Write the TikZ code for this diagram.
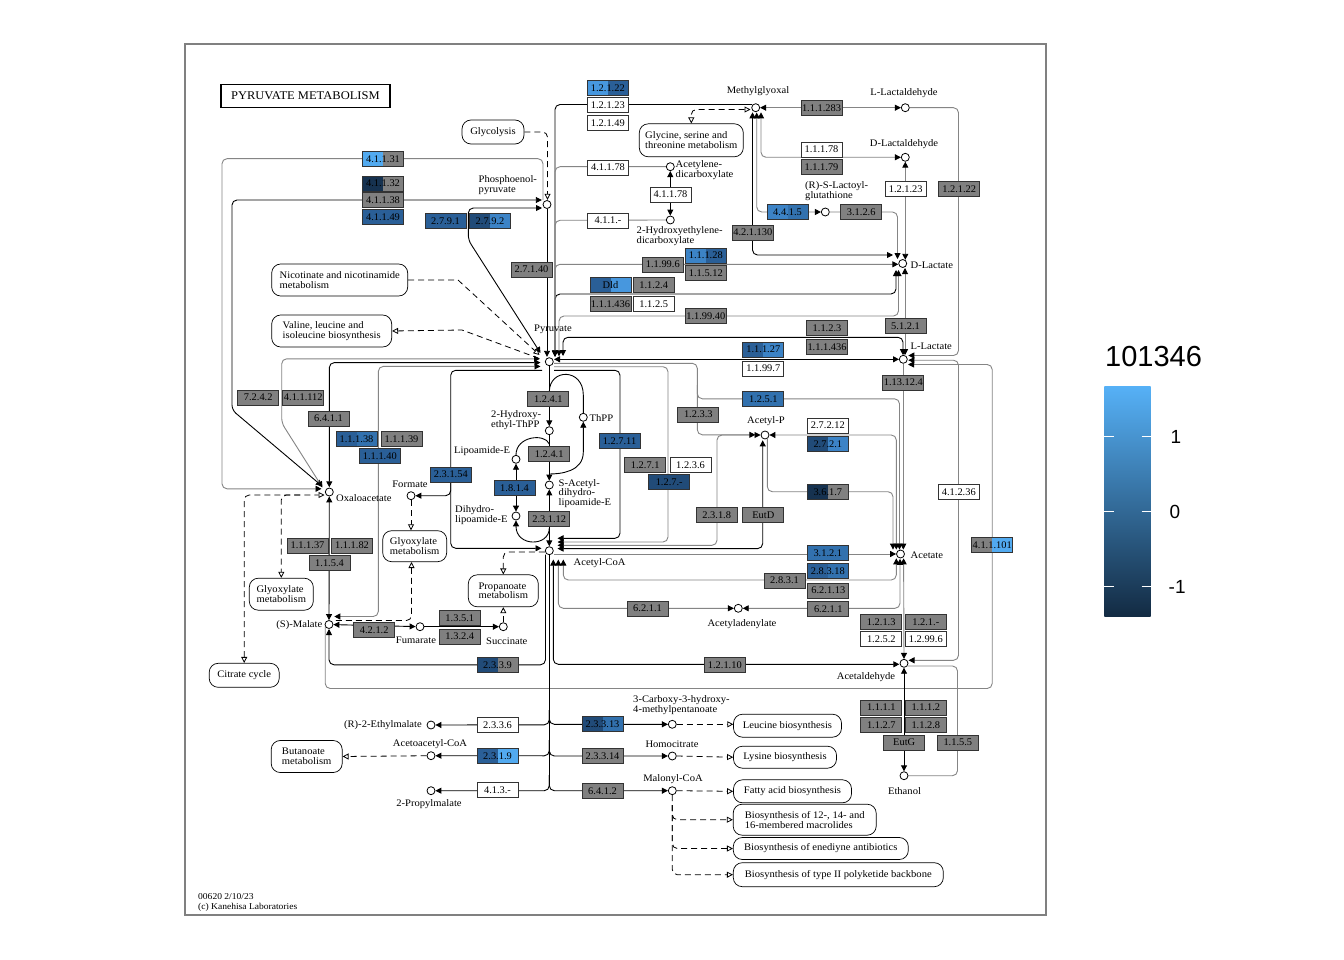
\documentclass[tikz,border=0pt]{standalone}
\usepackage{fontspec}
\setmainfont{Liberation Serif}
\newfontfamily\kfont[FakeStretch=1.06]{Liberation Serif}
\newfontfamily\bfont[FakeStretch=1.02]{Liberation Serif}
\newfontfamily\legfont{Liberation Sans}
\usetikzlibrary{arrows.meta}
\pgfdeclarelayer{bg}
\pgfsetlayers{bg,main}
\definecolor{kgray}{HTML}{808080}
\definecolor{lgray}{HTML}{858585}
\definecolor{cA}{HTML}{52AAF0}
\definecolor{cB}{HTML}{4797DE}
\definecolor{cC}{HTML}{3C83C6}
\definecolor{cD}{HTML}{3271AE}
\definecolor{cE}{HTML}{2A5F97}
\definecolor{cF}{HTML}{214B78}
\definecolor{cG}{HTML}{163250}
\definecolor{legHi}{HTML}{56B1F7}
\definecolor{legLo}{HTML}{132B43}
\newcommand\boxfont{\bfont\fontsize{10.2}{10.2}\selectfont}
\newcommand\lblfont{\kfont\fontsize{10}{9.8}\selectfont}
\newcommand\ttlfont{\kfont\fontsize{11.8}{12}\selectfont}
\newcommand\ftfont{\kfont\fontsize{9}{10}\selectfont}
\begin{document}
\begin{tikzpicture}[x=1pt,y=-1pt,
  >={Triangle[length=6pt,width=6pt,color=black]},
  ec/.style={draw=black!80,line width=0.7pt,minimum width=41pt,minimum height=15pt,inner sep=0pt,font=\boxfont,text=black},
  eg/.style={ec,fill=kgray},
  ew/.style={ec,fill=white},
  eb/.style={ec,fill=#1},
  esp/.style 2 args={ec,path picture={
     \fill[#1] (path picture bounding box.south west) rectangle (path picture bounding box.north);
     \fill[#2] (path picture bounding box.south) rectangle (path picture bounding box.north east);}},
  cpd/.style={circle,draw=black,fill=white,line width=0.8pt,minimum size=8pt,inner sep=0pt},
  lb/.style={font=\lblfont,inner sep=0pt,align=left},
  mapn/.style={draw=black,line width=0.7pt,rounded corners=9pt,fill=white,font=\lblfont,align=left,inner sep=0pt},
  kl/.style={draw=black,line width=0.9pt},
  gl/.style={draw=lgray,line width=0.9pt},
  dl/.style={draw=black,line width=0.8pt,dash pattern=on 6pt off 4pt},
  rc/.style={rounded corners=5pt},
  oa/.style={-{Triangle[open,fill=white,length=6pt,width=6pt]}},
  ao/.style={{Triangle[open,fill=white,length=6pt,width=6pt]}-},
  oao/.style={{Triangle[open,fill=white,length=6pt,width=6pt]}-{Triangle[open,fill=white,length=6pt,width=6pt]}}
]
\useasboundingbox (0,0) rectangle (1344,960);

% ---------------- title
\node[draw=black,line width=1.2pt,minimum width=169pt,minimum height=23pt,inner sep=0pt,font=\ttlfont] (title) at (305.4,96) {PYRUVATE METABOLISM};

% ---------------- enzyme boxes (gray)
\node[eg] (e01) at (531.5,269.5) {2.7.1.40};
\node[eg] (e02) at (662.8,264.5) {1.1.99.6};
\node[eg] (e03) at (705.8,273.2) {1.1.5.12};
\node[eg] (e04) at (653.7,285) {1.1.2.4};
\node[eg] (e05) at (610.5,303.8) {1.1.1.436};
\node[eg] (e06) at (705.8,315.8) {1.1.99.40};
\node[eg] (e07) at (821.5,107.7) {1.1.1.283};
\node[eg] (e08) at (821.5,167.2) {1.1.1.79};
\node[eg] (e09) at (861.2,212) {3.1.2.6};
\node[eg] (e10) at (752.8,232.5) {4.2.1.130};
\node[eg] (e11) at (959.2,188.7) {1.2.1.22};
\node[eg] (e12) at (827,328) {1.1.2.3};
\node[eg] (e13) at (827,346.7) {1.1.1.436};
\node[eg] (e14) at (905.5,326) {5.1.2.1};
\node[eg] (e15) at (903.3,382.5) {1.13.12.4};
\node[eg] (e16) at (698.3,414.5) {1.2.3.3};
\node[eg] (e17) at (645.2,465) {1.2.7.1};
\node[eg] (e18) at (716.7,515) {2.3.1.8};
\node[eg] (e19) at (763.3,515) {EutD};
\node[eg] (e20) at (784.5,580.5) {2.8.3.1};
\node[eg] (e21) at (828.3,590.5) {6.2.1.13};
\node[eg] (e22) at (647.5,608.5) {6.2.1.1};
\node[eg] (e23) at (828.3,608.8) {6.2.1.1};
\node[eg] (e24) at (881.2,621.7) {1.2.1.3};
\node[eg] (e25) at (925.8,621.7) {1.2.1.-};
\node[eg] (e26) at (724.8,664.8) {1.2.1.10};
\node[eg] (e27) at (881.3,707.5) {1.1.1.1};
\node[eg] (e28) at (925.8,707.5) {1.1.1.2};
\node[eg] (e29) at (881.3,725) {1.1.2.7};
\node[eg] (e30) at (925.8,725) {1.1.2.8};
\node[eg] (e31) at (904.2,742.5) {EutG};
\node[eg] (e32) at (957.8,742.5) {1.1.5.5};
\node[eg] (e33) at (548.3,399.2) {1.2.4.1};
\node[eg] (e34) at (549.2,454.2) {1.2.4.1};
\node[eg] (e35) at (549.2,519.2) {2.3.1.12};
\node[eg] (e36) at (328.5,418.5) {6.4.1.1};
\node[eg] (e37) at (401.5,439.2) {1.1.1.39};
\node[eg] (e38) at (258.2,397.5) {7.2.4.2};
\node[eg] (e39) at (303.3,397.5) {4.1.1.112};
\node[eg] (e40) at (307.5,545.5) {1.1.1.37};
\node[eg] (e41) at (352,545.5) {1.1.1.82};
\node[eg] (e42) at (329.5,563) {1.1.5.4};
\node[eg] (e43) at (374.2,630) {4.2.1.2};
\node[eg] (e44) at (459.8,618.2) {1.3.5.1};
\node[eg] (e45) at (459.8,636.5) {1.3.2.4};
\node[eg] (e46) at (602.5,756.3) {2.3.3.14};
\node[eg] (e47) at (602.5,790.8) {6.4.1.2};
\node[eg] (e48) at (383,200) {4.1.1.38};

% ---------------- enzyme boxes (white)
\node[ew] (w01) at (607.8,105.3) {1.2.1.23};
\node[ew] (w02) at (607.8,122.7) {1.2.1.49};
\node[ew] (w03) at (608,167.5) {4.1.1.78};
\node[ew] (w04) at (670.5,194.5) {4.1.1.78};
\node[ew] (w05) at (608,220.5) {4.1.1.-};
\node[ew] (w06) at (653.7,303.8) {1.1.2.5};
\node[ew] (w07) at (821.5,149.5) {1.1.1.78};
\node[ew] (w08) at (905.7,188.7) {1.2.1.23};
\node[ew] (w09) at (763.3,368.5) {1.1.99.7};
\node[ew] (w10) at (827.8,425.5) {2.7.2.12};
\node[ew] (w11) at (690.5,465) {1.2.3.6};
\node[ew] (w12) at (958.8,491.8) {4.1.2.36};
\node[ew] (w13) at (881.3,639.2) {1.2.5.2};
\node[ew] (w14) at (925.8,639.2) {1.2.99.6};
\node[ew] (w15) at (497.5,724.8) {2.3.3.6};
\node[ew] (w16) at (497.5,790.2) {4.1.3.-};

% ---------------- enzyme boxes (blue)
\node[eb=cD] (u01) at (763.3,399.2) {1.2.5.1};
\node[eb=cD] (u02) at (827.8,553.2) {3.1.2.1};
\node[eb=cE] (u03) at (619.5,440.7) {1.2.7.11};
\node[eb=cE] (u04) at (514.5,488.2) {1.8.1.4};
\node[eb=cE] (u05) at (450.8,474.5) {2.3.1.54};
\node[eb=cE] (u06) at (379.8,455.8) {1.1.1.40};
\node[eb=cE] (u07) at (445.5,221) {2.7.9.1};
\node[eb=cE] (u08) at (383,216.7) {4.1.1.49};
\node[eb=cF] (u09) at (669.2,481.7) {1.2.7.-};

% ---------------- enzyme boxes (two colours)
\node[esp={cB}{cE}] (s01) at (607.8,88.3) {1.2.1.22};
\node[esp={cC}{cD}] (s02) at (787.5,212) {4.4.1.5};
\node[esp={cC}{cE}] (s03) at (705.8,255.5) {1.1.1.28};
\node[esp={cE}{cB}] (s04) at (610.5,285) {Dld};
\node[esp={cE}{cC}] (s05) at (763.3,349.5) {1.1.1.27};
\node[esp={cF}{cC}] (s06) at (827.8,443.8) {2.7.2.1};
\node[esp={cG}{kgray}] (s07) at (827.8,491.7) {3.6.1.7};
\node[esp={kgray}{cA}] (s08) at (992.2,545) {4.1.1.101};
\node[esp={cE}{cD}] (s09) at (827.8,570.8) {2.8.3.18};
\node[esp={cE}{cD}] (s10) at (356.5,439.2) {1.1.1.38};
\node[esp={cF}{kgray}] (s11) at (497.5,665) {2.3.3.9};
\node[esp={cE}{cA}] (s12) at (497.5,755.8) {2.3.1.9};
\node[esp={cF}{cD}] (s13) at (602.5,724.2) {2.3.3.13};
\node[esp={cA}{kgray}] (s14) at (383,158.7) {4.1.1.31};
\node[esp={cG}{kgray}] (s15) at (383,183.5) {4.1.1.32};
\node[esp={cF}{cC}] (s16) at (490,221) {2.7.9.2};

% ---------------- compounds
\node[cpd] (mgo) at (755.7,107.7) {};
\node[cpd] (llald) at (905.3,107.7) {};
\node[cpd] (dlald) at (905.3,157.3) {};
\node[cpd] (rsl) at (825.3,212) {};
\node[cpd] (dlac) at (902.7,263.5) {};
\node[cpd] (llac) at (903.3,359.3) {};
\node[cpd] (pep) at (547,204.5) {};
\node[cpd] (acdc) at (670.3,166.7) {};
\node[cpd] (hedc) at (670.3,220) {};
\node[cpd] (pyr) at (549.3,361.7) {};
\node[cpd] (hethpp) at (549.3,430.7) {};
\node[cpd] (thpp) at (583.3,417.3) {};
\node[cpd] (lipo) at (516,459.3) {};
\node[cpd] (sacl) at (549.3,485) {};
\node[cpd] (dhl) at (516,516) {};
\node[cpd] (accoa) at (549.3,550.7) {};
\node[cpd] (acp) at (765,435) {};
\node[cpd] (acet) at (900.5,554) {};
\node[cpd] (acad) at (738.3,608.3) {};
\node[cpd] (acald) at (904,663.3) {};
\node[cpd] (etoh) at (904,775.7) {};
\node[cpd] (oaa) at (329.3,492) {};
\node[cpd] (form) at (411,495.7) {};
\node[cpd] (mal) at (329,624.5) {};
\node[cpd] (fum) at (420,626.7) {};
\node[cpd] (succ) at (503.3,626.7) {};
\node[cpd] (etm) at (431,725) {};
\node[cpd] (aacoa) at (431,755.7) {};
\node[cpd] (prm) at (431,790.7) {};
\node[cpd] (cmp) at (672.3,724.3) {};
\node[cpd] (hcit) at (672.3,756) {};
\node[cpd] (mcoa) at (672.3,790.7) {};

% ---------------- compound labels
\node[lb] (t01) at (758,91.5) {Methylglyoxal};
\node[lb] (t02) at (904,92.7) {L-Lactaldehyde};
\node[lb] (t03) at (904,144) {D-Lactaldehyde};
\node[lb,anchor=west] (t04) at (805,191.2) {(R)-S-Lactoyl-\\glutathione};
\node[lb,anchor=west] (t05) at (910.5,265) {D-Lactate};
\node[lb,anchor=west] (t06) at (910.5,346) {L-Lactate};
\node[lb,anchor=west] (t07) at (478.5,185) {Phosphoenol-\\pyruvate};
\node[lb,anchor=west] (t08) at (675.5,170) {Acetylene-\\dicarboxylate};
\node[lb,anchor=west] (t09) at (636.5,236.5) {2-Hydroxyethylene-\\dicarboxylate};
\node[lb] (t10) at (553,329) {Pyruvate};
\node[lb,anchor=west] (t11) at (491,420) {2-Hydroxy-\\ethyl-ThPP};
\node[lb,anchor=west] (t12) at (589.5,418.5) {ThPP};
\node[lb,anchor=west] (t13) at (454,451) {Lipoamide-E};
\node[lb,anchor=west] (t14) at (558.5,493.5) {S-Acetyl-\\dihydro-\\lipoamide-E};
\node[lb,anchor=west] (t15) at (455,515.3) {Dihydro-\\lipoamide-E};
\node[lb,anchor=west] (t16) at (573.5,563.5) {Acetyl-CoA};
\node[lb] (t17) at (766,421) {Acetyl-P};
\node[lb,anchor=west] (t18) at (910.5,555.5) {Acetate};
\node[lb] (t19) at (742,624.5) {Acetyladenylate};
\node[lb] (t20) at (866,677) {Acetaldehyde};
\node[lb] (t21) at (904.5,791.5) {Ethanol};
\node[lb,anchor=west] (t22) at (336,498.5) {Oxaloacetate};
\node[lb] (t23) at (410,484.5) {Formate};
\node[lb,anchor=east] (t24) at (322.5,625.5) {(S)-Malate};
\node[lb] (t25) at (416,640) {Fumarate};
\node[lb,anchor=west] (t26) at (486,641) {Succinate};
\node[lb,anchor=east] (t27) at (422,725) {(R)-2-Ethylmalate};
\node[lb] (t28) at (430,744) {Acetoacetyl-CoA};
\node[lb] (t29) at (429,804) {2-Propylmalate};
\node[lb,anchor=west] (t30) at (633,705.5) {3-Carboxy-3-hydroxy-\\4-methylpentanoate};
\node[lb] (t31) at (672,744) {Homocitrate};
\node[lb] (t32) at (673,779) {Malonyl-CoA};
\node[font=\ftfont,anchor=west,inner sep=0pt,align=left] (t33) at (198,902) {00620 2/10/23\\(c) Kanehisa Laboratories};

% ---------------- map nodes
\node[mapn,minimum width=62pt,minimum height=24pt] (m01) at (493,132) {Glycolysis};
\node[mapn,minimum width=104pt,minimum height=33pt] (m02) at (691.3,140.3) {Glycine, serine and\\threonine metabolism};
\node[mapn,minimum width=136pt,minimum height=32pt] (m03) at (339.7,280) {Nicotinate and nicotinamide\\metabolism};
\node[mapn,minimum width=120pt,minimum height=32pt] (m04) at (331.7,331) {Valine, leucine and\\isoleucine biosynthesis};
\node[mapn,minimum width=64pt,minimum height=31pt] (m05) at (414.7,546.2) {Glyoxylate\\metabolism};
\node[mapn,minimum width=64pt,minimum height=32pt] (m06) at (281.3,594.2) {Glyoxylate\\metabolism};
\node[mapn,minimum width=70pt,minimum height=32pt] (m07) at (503.3,590.8) {Propanoate\\metabolism};
\node[mapn,minimum width=70pt,minimum height=24pt] (m08) at (244.2,675.3) {Citrate cycle};
\node[mapn,minimum width=71pt,minimum height=32pt] (m09) at (306.7,756.5) {Butanoate\\metabolism};
\node[mapn,minimum width=108pt,minimum height=23pt] (m10) at (787.5,725.7) {Leucine biosynthesis};
\node[mapn,minimum width=103pt,minimum height=22pt] (m11) at (785,757.2) {Lysine biosynthesis};
\node[mapn,minimum width=118pt,minimum height=23pt] (m12) at (792.5,791.3) {Fatty acid biosynthesis};
\node[mapn,minimum width=143pt,minimum height=31pt] (m13) at (804.7,819.7) {Biosynthesis of 12-, 14- and\\16-membered macrolides};
\node[mapn,minimum width=175pt,minimum height=22pt] (m14) at (820.8,848.5) {Biosynthesis of enediyne antibiotics};
\node[mapn,minimum width=210pt,minimum height=24pt] (m15) at (838.3,874.7) {Biosynthesis of type II polyketide backbone};

% ---------------- legend
\shade[top color=legHi,bottom color=legLo] (1104.3,386) rectangle (1150.7,616);
\foreach \yy in {436.7,511.7,586.7} {\draw[white,line width=1.1pt] (1104.3,\yy) -- (1113.5,\yy) (1141.5,\yy) -- (1150.7,\yy);}
\node[font=\legfont\fontsize{29}{29}\selectfont,anchor=west,inner sep=0pt] (lg0) at (1105,357) {101346};
\node[font=\legfont\fontsize{19}{19}\selectfont,anchor=west,inner sep=0pt] (lg1) at (1170.5,437) {1};
\node[font=\legfont\fontsize{19}{19}\selectfont,anchor=west,inner sep=0pt] (lg2) at (1169.5,512) {0};
\node[font=\legfont\fontsize{19}{19}\selectfont,anchor=west,inner sep=0pt] (lg3) at (1168.5,587) {-1};

% ---------------- connectors
\begin{pgfonlayer}{bg}
\fill[white] (0,0) rectangle (1344,960);
\draw[draw=black!50,line width=1.3pt] (185,44) rectangle (1046,915);
% pyruvate, top side
\draw[kl,rc,->] (751.8,104.5) -- (555,104.5) -- (555,356.5);
\draw[kl,rc,->] (555,356.5) -- (555,294) -- (896,294) -- (896,270);
\draw[kl,rc,<->] (563,356) -- (563,337.3) -- (903,337.3) -- (903,355.2);
\draw[kl,<->] (554,359.3) -- (899,359.3);
\draw[kl,->] (pep) -- (547,356.8);
\draw[gl,rc,->] (acdc.west) -- (555,166.7) -- (555,356.5);
\draw[gl,rc,->] (hedc.west) -- (555,220.3) -- (555,356.5);
\draw[gl,rc,<->] (555,356.5) -- (555,264.3) -- (898.3,264.3);
\draw[gl,rc,<->] (559,356.3) -- (559,316) -- (898.5,316) -- (898.5,270);
\draw[gl,<->] (905,268) -- (905,355.2);
\draw[kl,<->] (acdc) -- (hedc);
% methylglyoxal
\draw[gl,<->] (mgo) -- (llald);
\draw[gl,rc,<->] (761,112.3) -- (761,157.3) -- (dlald.west);
\draw[gl,rc,<->] (756.7,112.5) -- (756.7,212) -- (rsl.west);
\draw[kl,rc,<->] (752.5,112.3) -- (752.5,255) -- (893,255);
\draw[gl,rc,->] (rsl.east) -- (897.5,212) -- (897.5,259);
\draw[gl,<->] (dlald) -- (905.3,259.8);
\draw[gl,rc,->] (llald.east) -- (958.5,107.7) -- (958.5,355.5) -- (908.3,355.5);
\draw[dl,rc,oao] (750.5,109.5) -- (691.3,109.5) -- (m02.north);
\draw[dl,rc,oa] (m01.east) -- (547.5,132) -- (547.5,199.8);
% PEP
\draw[gl,rc,->] (543,200) -- (543,158.7) -- (222,158.7) -- (222,488.8) -- (321.5,488.8);
\draw[kl,rc,<->] (541.8,200) -- (232,200) -- (232,410) -- (322,486);
\draw[kl,rc,<->] (542,208) -- (468.3,208) -- (468.3,240) -- (540.5,353);
\draw[dl,oa] (m03.east) -- (458,280) -- (539.5,355);
\draw[dl,ao] (m04.east) -- (462,330) -- (538.5,358.2);
% pyruvate, left side
\draw[gl,rc,<->] (540,358.8) -- (281.7,358.8) -- (281.7,423) -- (322.5,487.5);
\draw[kl,rc,<->] (540.5,362.6) -- (329.3,362.6) -- (329.3,487.3);
\draw[gl,rc,<->] (540.5,366.4) -- (378.3,366.4) -- (378.3,616.5) -- (334.3,616.5);
\draw[kl,rc,->] (542,370.3) -- (450.7,370.3) -- (450.7,548.3) -- (541.5,548.3);
\draw[kl,rc,->] (450.7,478) -- (450.7,495.7) -- (form.east);
% oxaloacetate / malate
\draw[kl,<->] (oaa) -- (mal);
\draw[kl,<->] (mal) -- (fum);
\draw[kl,->] (fum) -- (succ);
\draw[dl,rc,oao] (m08.north) -- (244.2,495) -- (324.5,495);
\draw[dl,rc,oa] (300,495) -- (281.3,495) -- (m06.north);
\draw[dl,oa] (form) -- (411,530.3);
\draw[dl,rc,ao] (411.5,562) -- (411.5,620.5) -- (334,620.5);
\draw[dl,rc,oa] (544.8,552) -- (503.3,552) -- (m07.north);
\draw[dl,oa] (succ) -- (m07.south);
\draw[dl,oa] (aacoa) -- (m09.east);
\draw[kl,rc,->] (545.5,554.5) -- (545.5,664.8) -- (329,664.8) -- (329,629);
% lactate / acetaldehyde / ethanol
\draw[gl,rc,->] (325.2,626) -- (325.2,688.5) -- (992.2,688.5) -- (992.2,364.5) -- (908,364.5);
\draw[gl,rc,<->] (908.3,360.2) -- (958.5,360.2) -- (958.5,660.3) -- (908.5,660.3);
\draw[gl,rc] (907.5,666) -- (957.5,666) -- (957.5,775.7) -- (etoh.east);
\draw[kl,<->] (acald) -- (etoh);
\draw[gl,<->] (903.6,558.3) -- (acald);
\draw[kl,rc,<->] (553.3,559.5) -- (553.3,664.3) -- (899.3,664.3);
% acetyl-CoA / acetate
\draw[gl,rc,<->] (558.3,559.5) -- (558.3,608.3) -- (acad.west);
\draw[gl,rc,<->] (acad.east) -- (900,608.3) -- (900,558.8);
\draw[gl,rc,<->] (563.3,559.5) -- (563.3,580) -- (896.3,580) -- (896.3,558.3);
\draw[gl,->] (553.8,554) -- (acet.west);
\draw[kl,rc,->] (554,370.3) -- (620,370.3) -- (620,538.3) -- (557.5,538.3);
\draw[gl,rc,->] (554,366.7) -- (668,366.7) -- (668,542) -- (557.5,542);
\draw[gl,rc,<->] (760.5,435) -- (717,435) -- (717,545.3) -- (557.5,545.3);
\draw[kl,rc,<->] (762.7,440.3) -- (762.7,548.6) -- (557.5,548.6);
\draw[gl,rc,->] (554,363.3) -- (697.3,363.3) -- (697.3,434.8) -- (755.3,434.8);
\draw[gl,rc,->] (697.3,385) -- (697.3,398.8) -- (899.5,398.8) -- (899.5,549.6);
\draw[gl,rc,<->] (acp.east) -- (896.3,435) -- (896.3,549.6);
\draw[gl,rc,->] (767.3,439) -- (767.3,491.7) -- (893,491.7) -- (893,549.6);
\draw[gl,->] (llac) -- (903.3,549.6);
% pyruvate dehydrogenase complex
\draw[kl,->] (pyr) -- (hethpp);
\draw[kl,->] (hethpp) -- (sacl);
\draw[kl,<->] (sacl) -- (accoa);
\draw[kl] (549.3,392) .. controls (549.3,368) and (583.3,368) .. (583.3,395) -- (thpp.north);
\draw[kl,<-] (thpp.south) -- (583.3,452) .. controls (583.3,472) and (560,474) .. (549.3,474);
\draw[kl] (lipo.north) .. controls (516,436) and (545,433) .. (549.3,444);
\draw[kl,<-] (dhl.south) .. controls (516,547) and (549.3,547) .. (549.3,528);
\draw[kl,<->] (lipo) -- (dhl);
% acetyl-CoA downwards
\draw[kl] (accoa) -- (549.3,783);
\draw[kl,rc,->] (549.3,710) -- (549.3,724.8) -- (etm.east);
\draw[kl,rc,->] (549.3,710) -- (549.3,724.3) -- (cmp.west);
\draw[kl,rc,->] (549.3,740) -- (549.3,755.8) -- (aacoa.east);
\draw[kl,rc,->] (549.3,740) -- (549.3,756) -- (hcit.west);
\draw[kl,rc,->] (549.3,775) -- (549.3,790.7) -- (prm.east);
\draw[kl,rc,->] (549.3,775) -- (549.3,790.7) -- (mcoa.west);
\draw[dl,oa] (cmp.east) -- (733.3,724.3);
\draw[dl,oa] (hcit.east) -- (m11.west);
\draw[dl,oa] (mcoa.east) -- (m12.west);
\draw[dl,rc,oa] (mcoa.south) -- (672.3,819.7) -- (m13.west);
\draw[dl,rc,oa] (672.3,805) -- (672.3,848.5) -- (m14.west);
\draw[dl,rc,oa] (672.3,805) -- (672.3,874.7) -- (m15.west);
\end{pgfonlayer}
\end{tikzpicture}
\end{document}
